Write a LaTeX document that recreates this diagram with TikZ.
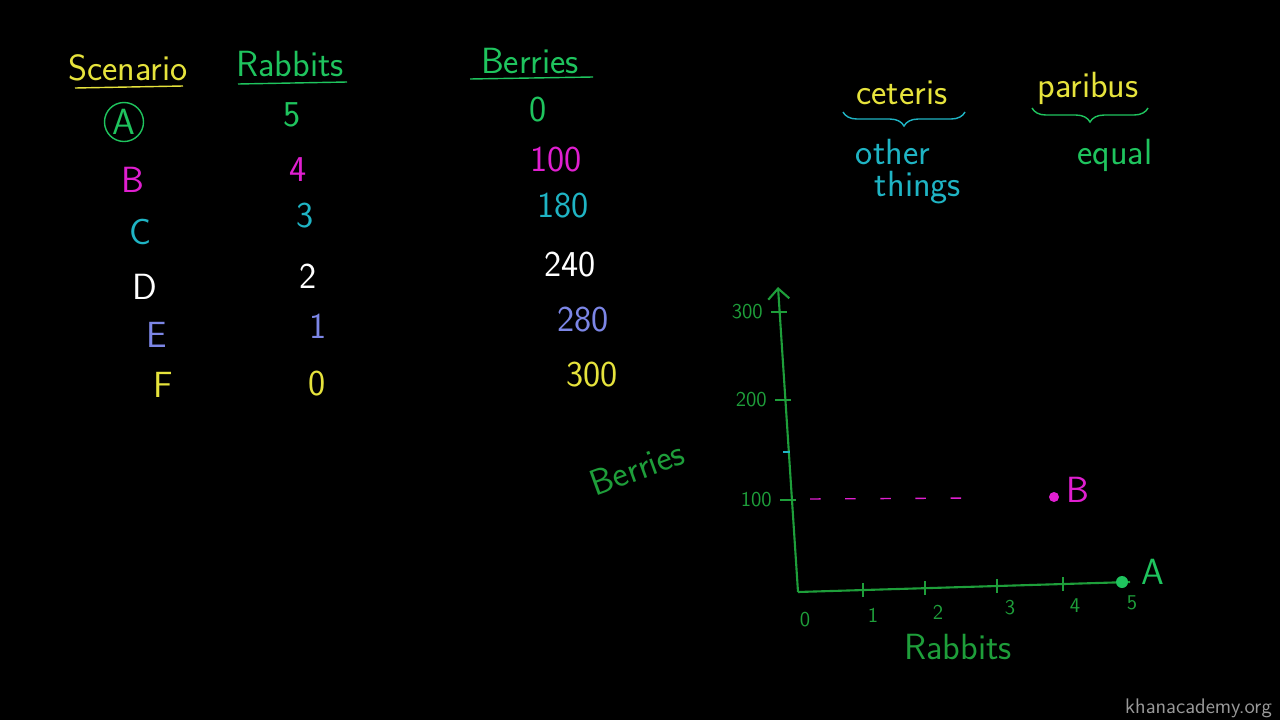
\documentclass[tikz,border=0pt]{standalone}
\usetikzlibrary{arrows.meta,decorations.pathreplacing}
\definecolor{kyellow}{HTML}{E6E33C}
\definecolor{kgreen}{HTML}{1FC45E}
\definecolor{kdgreen}{HTML}{1E9E3A}
\definecolor{kmag}{HTML}{E01FD0}
\definecolor{kteal}{HTML}{1FB4C4}
\definecolor{kblue}{HTML}{7C86E6}
\tikzset{
  hand/.style={font=\sffamily\huge},
  axis/.style={kdgreen, line width=1.2pt},
  tick/.style={kdgreen, line width=1pt},
  ticklbl/.style={kdgreen, font=\sffamily\large},
}
\begin{document}
\begin{tikzpicture}[x=0.02cm, y=-0.02cm]
    \fill[black] (0,0) rectangle (1280,720);
    \useasboundingbox (0,0) rectangle (1280,720);

    % table header
    \node[hand, kyellow] (hscen) at (128,68) {Scenario};
    \node[hand, kgreen] (hrab) at (290,64) {Rabbits};
    \node[hand, kgreen] (hber) at (530,61) {Berries};
    \draw[kyellow, thick] (75,88) -- (183,86);
    \draw[kgreen, thick] (238,84) -- (347,82);
    \draw[kgreen, thick] (470,79) -- (593,77);

    % rows
    \node[hand, kgreen, circle, draw, thick, inner sep=1pt] (sa) at (124,122) {A};
    \node[hand, kgreen] (ra) at (292,115) {5};
    \node[hand, kgreen] (ba) at (538,110) {0};
    \node[hand, kmag] (sb) at (133,180) {B};
    \node[hand, kmag] (rb) at (298,170) {4};
    \node[hand, kmag] (bb) at (556,160) {100};
    \node[hand, kteal] (sc) at (140,232) {C};
    \node[hand, kteal] (rc) at (305,216) {3};
    \node[hand, kteal] (bc) at (563,206) {180};
    \node[hand, white] (sd) at (145,287) {D};
    \node[hand, white] (rd) at (308,276) {2};
    \node[hand, white] (bd) at (570,265) {240};
    \node[hand, kblue] (se) at (157,335) {E};
    \node[hand, kblue] (re) at (318,326) {1};
    \node[hand, kblue] (be) at (583,320) {280};
    \node[hand, kyellow] (sf) at (163,385) {F};
    \node[hand, kyellow] (rf) at (317,384) {0};
    \node[hand, kyellow] (bf) at (592,375) {300};

    % ceteris paribus
    \node[hand, kyellow] (cet) at (902,93) {ceteris};
    \node[hand, kyellow] (par) at (1088,88) {paribus};
    \draw[kteal, thick, decorate, decoration={brace, mirror, amplitude=8pt}] (843,112) -- (965,112);
    \draw[kgreen, thick, decorate, decoration={brace, mirror, amplitude=8pt}] (1032,108) -- (1148,108);
    \node[hand, kteal] (oth) at (893,152) {other};
    \node[hand, kteal] (thi) at (918,188) {things};
    \node[hand, kgreen] (equ) at (1115,155) {equal};

    % axes
    \coordinate (O) at (798,592);
    \coordinate (ytop) at (778,287);
    \coordinate (xend) at (1130,582);
    \draw[axis, -{Straight Barb[length=6pt]}] (O) -- (ytop);
    \draw[axis] (O) -- (xend);
    \foreach \yy/\xx/\lbl in {312/779/300, 400/783/200, 500/788/100} {
        \draw[tick] (\xx-8,\yy) -- (\xx+8,\yy);
        \node[ticklbl, anchor=east] at (\xx-10,\yy) {\lbl};
    }
    \draw[kteal, thick] (783,452) -- (790,452);
    \foreach \xx/\yy in {863/590, 925/588, 997/586, 1063/584} {
        \draw[tick] (\xx,\yy-7) -- (\xx,\yy+7);
    }
    \foreach \xx/\yy/\lbl in {805/620/0, 873/615/1, 938/612/2, 1010/608/3, 1075/606/4, 1132/603/5} {
        \node[ticklbl] at (\xx,\yy) {\lbl};
    }
    \node[hand, kdgreen, rotate=20] (ylbl) at (637,468) {Berries};
    \node[hand, kdgreen] (xlbl) at (958,647) {Rabbits};

    % points
    \fill[kmag] (1054,497) circle (5);
    \node[hand, kmag] (pb) at (1078,490) {B};
    \draw[kmag, thick, dash pattern=on 6pt off 14pt] (810,499) -- (970,498);
    \fill[kgreen] (1122,582) circle (6);
    \node[hand, kgreen] (pa) at (1153,572) {A};

    \node[gray!80, font=\sffamily\large, anchor=east] (brand) at (1278,708) {khanacademy.org};
\end{tikzpicture}
\end{document}
